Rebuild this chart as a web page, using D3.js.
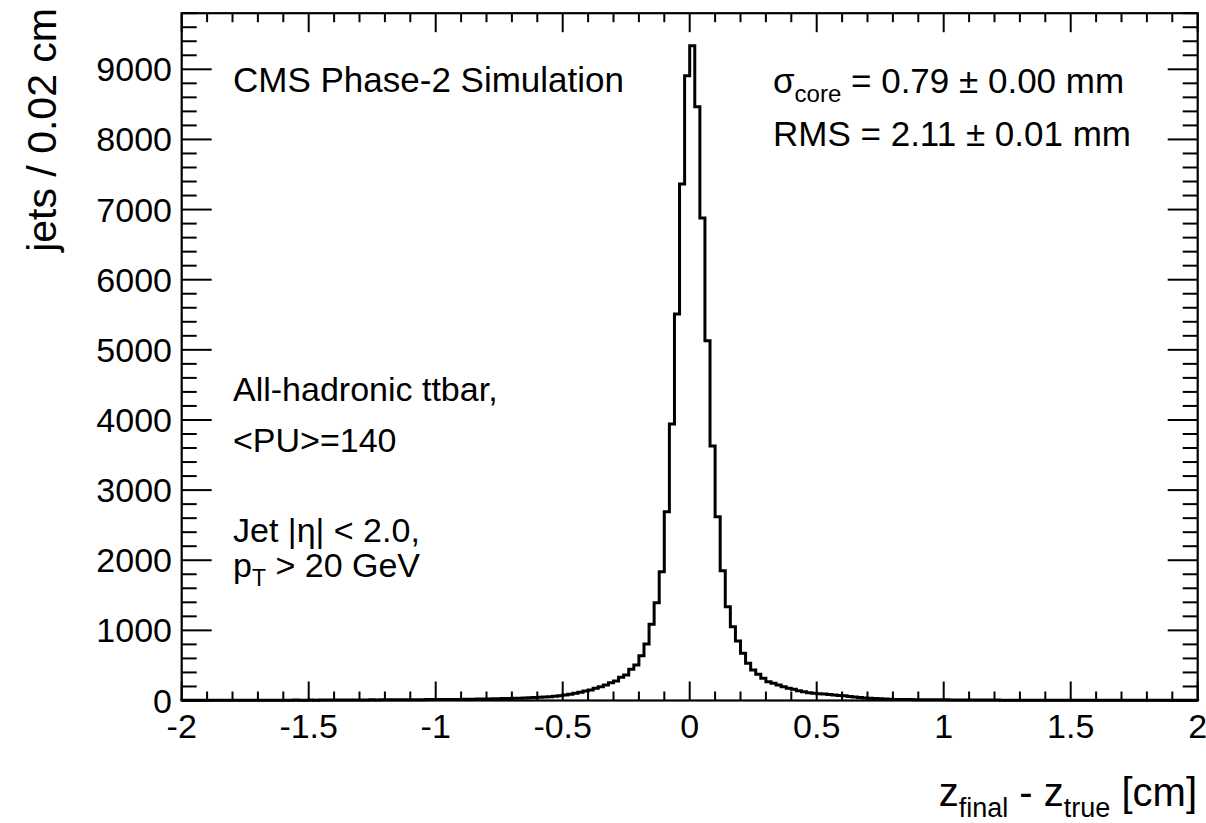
<!DOCTYPE html>
<html>
<head>
<meta charset="utf-8">
<script src="https://cdn.jsdelivr.net/npm/d3@7"></script>
<style>
  html, body { margin: 0; padding: 0; background: #fff; }
  svg { display: block; }
  text { font-family: "Liberation Sans", Arial, Helvetica, sans-serif; fill: #000; }
</style>
</head>
<body>
<svg id="chart" width="1206" height="823"></svg>
<script>
// ---- data ----
const xMin = -2, xMax = 2, binWidth = 0.02;
// jets per 0.02 cm bin, from x = -2.00 to 1.98 (200 bins)
const counts = [
  3,2,4,3,3,4,2,3,4,3,4,3,5,4,3,4,5,4,4,5,5,4,6,5,5,
  6,5,6,7,6,7,6,8,7,7,8,8,9,8,9,10,9,10,11,10,12,11,12,13,13,
  14,14,15,16,16,17,18,19,20,21,22,24,25,27,29,31,33,36,39,42,46,50,55,61,68,
  78,88,103,117,135,150,174,197,221,254,278,331,364,445,506,639,806,1087,1395,1837,2692,3943,5511,7365,8909,
  9337,8467,6880,5130,3629,2621,1851,1338,1052,848,673,530,435,374,317,268,245,221,197,174,160,140,125,111,103,
  97,92,86,80,73,66,58,50,43,37,32,28,24,21,18,16,15,14,13,12,11,11,10,10,9,
  9,8,8,8,7,7,7,6,6,6,6,5,5,5,5,5,4,4,4,4,4,4,3,4,3,
  3,3,4,3,3,3,2,3,3,2,3,3,2,2,3,2,2,2,3,2,2,2,2,2,2
];
const xTicks = [-2, -1.5, -1, -0.5, 0, 0.5, 1, 1.5, 2];
const xTickLabels = ["-2", "-1.5", "-1", "-0.5", "0", "0.5", "1", "1.5", "2"];
const yTicks = [0, 1000, 2000, 3000, 4000, 5000, 6000, 7000, 8000, 9000];
const yMax = 9800;

// ---- layout ----
const svg = d3.select("#chart");
const L = 181.7, R = 1197.7, T = 13.2, B = 700.5;
const x = d3.scaleLinear().domain([xMin, xMax]).range([L, R]);
const y = d3.scaleLinear().domain([0, yMax]).range([B, T]);

const fontSize = 34;

// histogram step path
const pts = [[xMin, 0]];
counts.forEach((c, i) => {
  const x0 = xMin + i * binWidth, x1 = x0 + binWidth;
  pts.push([x0, c]); pts.push([x1, c]);
});
pts.push([xMax, 0]);
svg.append("path")
  .attr("d", d3.line().x(d => x(d[0])).y(d => y(d[1]))(pts))
  .attr("fill", "none").attr("stroke", "#000").attr("stroke-width", 3)
  .attr("stroke-linejoin", "miter");

// frame
svg.append("rect").attr("x", L).attr("y", T).attr("width", R - L).attr("height", B - T)
  .attr("fill", "none").attr("stroke", "#000").attr("stroke-width", 2.2);

// ticks
const xMajorLen = 19, xMinorLen = 9, yMajorLen = 30, yMinorLen = 15;
const xMinor = d3.range(-20, 21).map(v => v / 10);
const yMinor = d3.range(0, yMax + 1, 200);
const tickG = svg.append("g").attr("stroke", "#000").attr("stroke-width", 2);
xMinor.forEach(v => {
  const major = Math.abs(v * 2 - Math.round(v * 2)) < 1e-6;
  const len = major ? xMajorLen : xMinorLen;
  tickG.append("line").attr("x1", x(v)).attr("x2", x(v)).attr("y1", B).attr("y2", B - len);
  tickG.append("line").attr("x1", x(v)).attr("x2", x(v)).attr("y1", T).attr("y2", T + len);
});
yMinor.forEach(v => {
  const major = v % 1000 === 0;
  const len = major ? yMajorLen : yMinorLen;
  tickG.append("line").attr("x1", L).attr("x2", L + len).attr("y1", y(v)).attr("y2", y(v));
  tickG.append("line").attr("x1", R).attr("x2", R - len).attr("y1", y(v)).attr("y2", y(v));
});

// tick labels
xTicks.forEach((v, i) => {
  svg.append("text").attr("x", x(v)).attr("y", 738).attr("text-anchor", "middle")
    .attr("font-size", fontSize).text(xTickLabels[i]);
});
yTicks.forEach(v => {
  svg.append("text").attr("x", 172).attr("y", y(v) + 12).attr("text-anchor", "end")
    .attr("font-size", fontSize).text(String(v));
});

// axis titles
svg.append("text").attr("transform", "translate(56,8) rotate(-90)")
  .attr("text-anchor", "end").attr("font-size", 41).text("jets / 0.02 cm");

const xt = svg.append("text").attr("x", 1197).attr("y", 806).attr("text-anchor", "end").attr("font-size", 40);
xt.append("tspan").text("z");
xt.append("tspan").attr("dy", 11).attr("font-size", 27).text("final");
xt.append("tspan").attr("dy", -11).text(" - z");
xt.append("tspan").attr("dy", 11).attr("font-size", 27).text("true");
xt.append("tspan").attr("dy", -11).text(" [cm]");

// annotations
svg.append("text").attr("x", 233).attr("y", 92).attr("font-size", 35).text("CMS Phase-2 Simulation");

const s1 = svg.append("text").attr("x", 773).attr("y", 93).attr("font-size", 35);
s1.append("tspan").text("σ");
s1.append("tspan").attr("dy", 9).attr("font-size", 24).text("core");
s1.append("tspan").attr("dy", -9).text(" = 0.79 ± 0.00 mm");
svg.append("text").attr("x", 773).attr("y", 146).attr("font-size", 35).text("RMS = 2.11 ± 0.01 mm");

svg.append("text").attr("x", 233).attr("y", 401).attr("font-size", fontSize).text("All-hadronic ttbar,");
svg.append("text").attr("x", 233).attr("y", 452).attr("font-size", fontSize).text("<PU>=140");
svg.append("text").attr("x", 233).attr("y", 542).attr("font-size", fontSize).text("Jet |η| < 2.0,");
const pt = svg.append("text").attr("x", 233).attr("y", 577).attr("font-size", fontSize);
pt.append("tspan").text("p");
pt.append("tspan").attr("dy", 9).attr("font-size", 23).text("T");
pt.append("tspan").attr("dy", -9).text(" > 20 GeV");
</script>
</body>
</html>
